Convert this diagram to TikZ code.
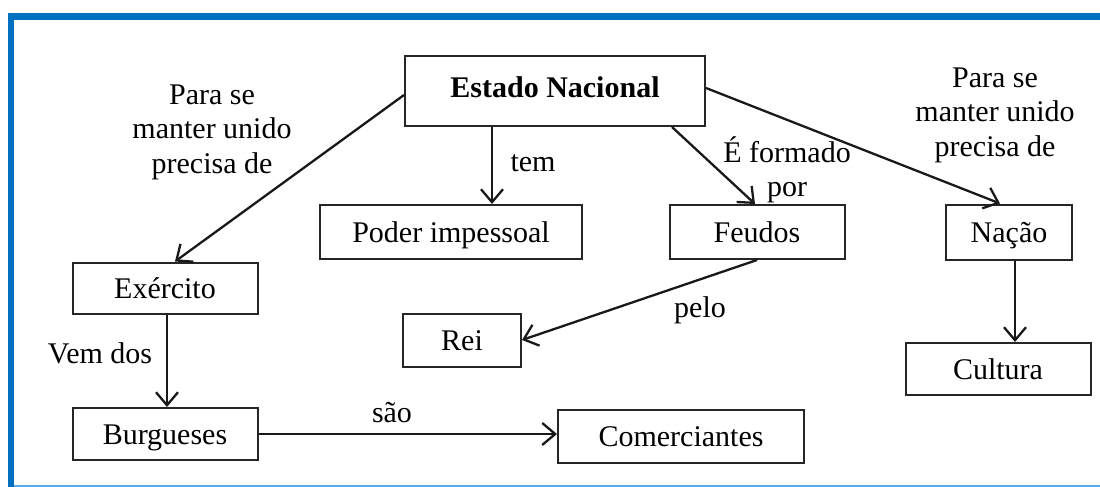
\documentclass[tikz,border=0pt]{standalone}
\usepackage{fontspec}
\setmainfont{Liberation Serif}
\usetikzlibrary{arrows.meta,calc}
\definecolor{frameblue}{HTML}{0070C0}
\definecolor{framelight}{HTML}{5AA8E6}
\tikzset{
  box/.style={draw=black!85, line width=2pt, inner sep=0pt, text height=23pt, text depth=3pt, font=\fontsize{30}{35}\selectfont},
  lbl/.style={inner sep=0pt, align=center, font=\fontsize{30}{34.5}\selectfont},
  conn/.style={draw=black!90, line width=2.3pt, -{Straight Barb[length=13pt,width=22pt,line width=2.3pt]}}
}
\begin{document}
\begin{tikzpicture}[x=1pt,y=-1pt]
\useasboundingbox (0,0) rectangle (1100,487);
% frame
\draw[frameblue, line width=6.5pt] (11,487) -- (11,16.5) -- (1100,16.5);
\draw[framelight, line width=1.5pt] (14,486) -- (1100,486);
% nodes
\node[box, text height=21pt, text depth=8pt, minimum width=300pt, minimum height=70pt] (est) at (555,91) {\bfseries Estado Nacional};
\node[box, minimum width=262pt, minimum height=54pt] (pod) at (451,232) {Poder impessoal};
\node[box, minimum width=175pt, minimum height=54pt] (feu) at (757,232) {Feudos};
\node[box, minimum width=126pt, minimum height=55pt] (nac) at (1009,232) {Nação};
\node[box, minimum width=185pt, minimum height=52pt] (cul) at (998,369) {Cultura};
\node[box, minimum width=185pt, minimum height=51pt] (exe) at (165,288) {Exército};
\node[box, minimum width=118pt, minimum height=53pt] (rei) at (462,340) {Rei};
\node[box, minimum width=185pt, minimum height=52pt] (bur) at (165,434) {Burgueses};
\node[box, minimum width=246pt, minimum height=53pt] (com) at (681,436) {Comerciantes};
% labels
\node[lbl] (l1) at (212,132) {Para se\\manter unido\\precisa de};
\node[lbl] (l2) at (995,115) {Para se\\manter unido\\precisa de};
\node[lbl] (l3) at (533,163) {tem};
\node[lbl] (l4) at (787,170) {É formado\\por};
\node[lbl] (l5) at (700,310) {pelo};
\node[lbl] (l6) at (100,353) {Vem dos};
\node[lbl] (l7) at (392,413) {são};
% connectors
\draw[conn] ([yshift=-4pt]est.west) -- ([xshift=10pt]exe.north);
\draw[conn] ([xshift=-63pt]est.south) -- ([xshift=41pt]pod.north);
\draw[conn] ([xshift=117pt]est.south) -- ([xshift=-2pt]feu.north);
\draw[conn] ([yshift=3pt]est.east) -- ([xshift=-9pt]nac.north);
\draw[conn] ([xshift=2pt]exe.south) -- ([xshift=2pt]bur.north);
\draw[conn] (bur.east) -- (bur.east -| com.west);
\draw[conn] (feu.south) -- (rei.east);
\draw[conn] ([xshift=6pt]nac.south) -- ([xshift=6pt]nac.south |- cul.north);
\end{tikzpicture}
\end{document}
